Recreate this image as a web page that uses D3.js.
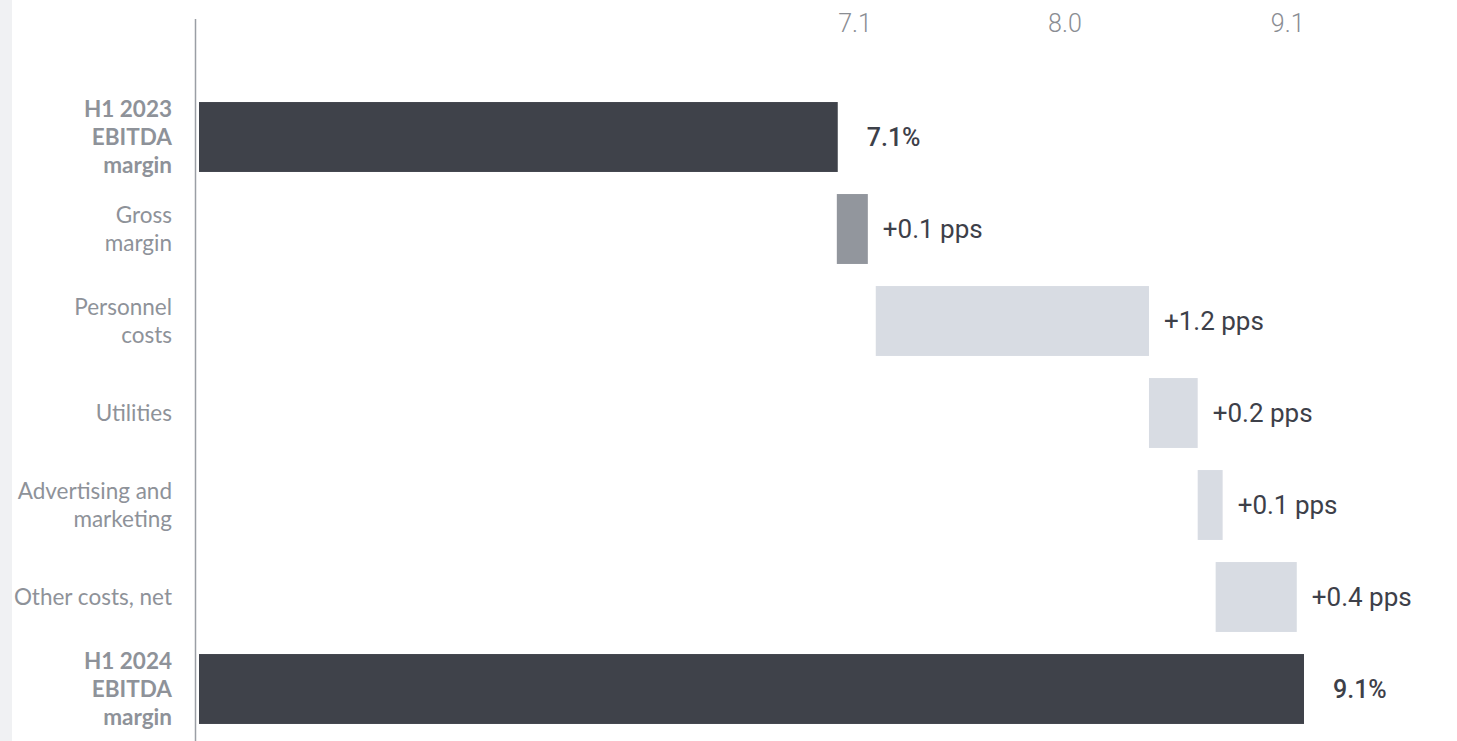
<!DOCTYPE html>
<meta charset="utf-8">
<style>
body { margin: 0; background: #fff; }
.strip { fill: #f0f1f3; }
.cat { font: 22.5px Lato, sans-serif; fill: #8e9299; }
.cat.total { font-weight: 700; }
.tick text { font: 300 25px Roboto, sans-serif; fill: #8a8d93; }
.val { font: 400 26px Roboto, sans-serif; fill: #3d4049; }
.val.total { font-weight: 500; font-size: 25px; }
</style>
<body>
<script src="https://d3js.org/d3.v7.min.js"></script>
<script>

// categories (one entry per line of the label)
var categories = [
  ["H1 2023", "EBITDA", "margin"],
  ["Gross", "margin"],
  ["Personnel", "costs"],
  ["Utilities"],
  ["Advertising and", "marketing"],
  ["Other costs, net"],
  ["H1 2024", "EBITDA", "margin"]
];
var kinds = ["total", "mid", "light", "light", "light", "light", "total"];
// bar start / end values (pp)
var barStart = [4.36, 7.096, 7.263, 8.435, 8.644, 8.721, 4.36];
var barEnd   = [7.1, 7.229, 8.435, 8.644, 8.751, 9.069, 9.1];
var valueLabels = ["7.1%", "+0.1 pps", "+1.2 pps", "+0.2 pps", "+0.1 pps", "+0.4 pps", "9.1%"];
var tickVals = [7.1, 8.0, 9.1];

var W = 1457, H = 741;
var colors = {total: "#3f424a", mid: "#92969d", light: "#d8dce3"};

var svg = d3.select("body").append("svg")
    .attr("width", W)
    .attr("height", H);

// light strip on the far left
svg.append("rect").attr("class", "strip")
    .attr("x", 0).attr("y", 0).attr("width", 12).attr("height", H);

var x = d3.scaleLinear().domain([4.36, 9.1]).range([199, 1304]);
var y = d3.scaleBand()
    .domain(d3.range(categories.length))
    .range([91, 735])
    .paddingInner(0.24)
    .paddingOuter(0.12);

// top value axis (labels only)
var ax = svg.append("g")
    .attr("transform", "translate(0,32)")
    .call(d3.axisTop(x).tickValues(tickVals).tickFormat(d3.format(".1f")).tickSize(0).tickPadding(0));
ax.select(".domain").remove();
ax.selectAll("text")
    .attr("dy", 0)
    .style("text-anchor", function(d, i) { return i == tickVals.length - 1 ? "end" : "start"; });

// vertical baseline
svg.append("line")
    .attr("x1", 195.5).attr("x2", 195.5)
    .attr("y1", 19).attr("y2", H)
    .attr("stroke", "#9a9ea5")
    .attr("stroke-width", 1.5);

// bars
svg.selectAll(".bar")
    .data(d3.range(categories.length))
  .enter().append("rect")
    .attr("class", "bar")
    .attr("x", function(i) { return x(barStart[i]); })
    .attr("width", function(i) { return x(barEnd[i]) - x(barStart[i]); })
    .attr("y", function(i) { return y(i); })
    .attr("height", y.bandwidth())
    .attr("fill", function(i) { return colors[kinds[i]]; });

// value labels
svg.selectAll(".val")
    .data(d3.range(categories.length))
  .enter().append("text")
    .attr("class", function(i) { return kinds[i] == "total" ? "val total" : "val"; })
    .attr("x", function(i) { return x(barEnd[i]) + (kinds[i] == "total" ? 29 : 15); })
    .attr("y", function(i) { return y(i) + y.bandwidth() / 2; })
    .attr("dy", "0.35em")
    .text(function(i) { return valueLabels[i]; });

// category labels
var lh = 28;
var cat = svg.selectAll(".cat")
    .data(d3.range(categories.length))
  .enter().append("text")
    .attr("class", function(i) { return kinds[i] == "total" ? "cat total" : "cat"; })
    .attr("text-anchor", "end")
    .attr("y", function(i) { return y(i) + y.bandwidth() / 2 - (categories[i].length - 1) * lh / 2; });
cat.selectAll("tspan")
    .data(function(i) { return categories[i]; })
  .enter().append("tspan")
    .attr("x", 172)
    .attr("dy", function(d, j) { return j == 0 ? "0.35em" : lh; })
    .text(function(d) { return d; });

</script>
</body>
